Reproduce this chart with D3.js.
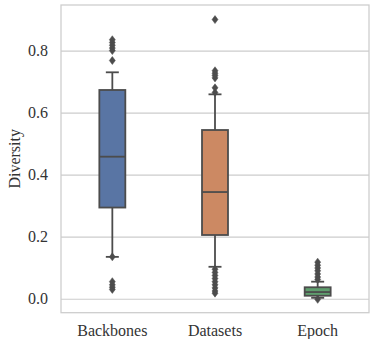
<!DOCTYPE html>
<html>
<head>
<meta charset="utf-8">
<script src="https://cdn.jsdelivr.net/npm/d3@7"></script>
<style>
  body { margin: 0; background: #fff; }
  text { font-family: "Liberation Serif", "DejaVu Serif", serif; }
</style>
</head>
<body>
<div id="chart"></div>
<script>
// Box plot data (summary stats per group)
const categories = ["Backbones", "Datasets", "Epoch"];
const colors = ["#5975a4", "#cc8963", "#5f9e6e"];
const q1 = [0.294, 0.2055, 0.0097];
const medians = [0.458, 0.344, 0.0216];
const q3 = [0.673, 0.544, 0.037];
const whiskerLow = [0.135, 0.103, 0.003];
const whiskerHigh = [0.730, 0.659, 0.055];
const outliersBackbones = [0.03, 0.037, 0.045, 0.055, 0.135, 0.768, 0.80, 0.808, 0.817, 0.826, 0.835];
const outliersDatasets = [0.018, 0.025, 0.035, 0.045, 0.055, 0.065, 0.075, 0.085, 0.095, 0.665, 0.68, 0.712, 0.72, 0.727, 0.735, 0.90];
const outliersEpoch = [-0.002, 0.062, 0.07, 0.08, 0.09, 0.099, 0.108, 0.118];
const yTicks = [0.0, 0.2, 0.4, 0.6, 0.8];

const outliers = [outliersBackbones, outliersDatasets, outliersEpoch];
const data = categories.map((c, i) => ({
    key: c, color: colors[i], q1: q1[i], med: medians[i], q3: q3[i],
    lo: whiskerLow[i], hi: whiskerHigh[i], fliers: outliers[i]
}));

// Chart dimensions and margins
const width = 370;
const height = 339;
const margins = { top: 5, right: 1, bottom: 26.3, left: 61 };
const lineColor = "#4c4c4c";
const gridColor = "#cccccc";
const textColor = "#333333";

const x = d3.scaleBand()
    .domain(categories)
    .range([margins.left, width - margins.right])
    .padding(0);
const y = d3.scaleLinear()
    .domain([-0.045, 0.947])
    .range([height - margins.bottom, margins.top]);

const boxW = x.bandwidth() * 0.253;
const capW = boxW * 0.5;

const svg = d3.select("#chart").append("svg")
    .attr("width", width)
    .attr("height", height)
    .attr("viewBox", [0, 0, width, height]);

// Y grid + tick labels
svg.append("g")
    .attr("transform", `translate(${margins.left},0)`)
    .call(d3.axisLeft(y).tickValues(yTicks).tickFormat(d3.format(".1f"))
        .tickSize(-(width - margins.left - margins.right)).tickPadding(13))
    .call(g => g.select(".domain").remove())
    .call(g => g.selectAll(".tick line").attr("stroke", gridColor).attr("stroke-width", 1.2))
    .call(g => g.selectAll(".tick text")
        .attr("fill", textColor)
        .style("font-size", "16px")
        .style("font-family", "'Liberation Serif', serif"));

// X labels
svg.append("g")
    .attr("transform", `translate(0,${height - margins.bottom})`)
    .call(d3.axisBottom(x).tickSize(0).tickPadding(0))
    .call(g => g.select(".domain").remove())
    .call(g => g.selectAll(".tick text")
        .attr("y", 0)
        .attr("dy", "23.3px")
        .attr("fill", textColor)
        .style("font-size", "16px")
        .style("font-family", "'Liberation Serif', serif"));

// Y axis title
svg.append("text")
    .attr("transform", `translate(19.5,${(margins.top + height - margins.bottom) / 2}) rotate(-90)`)
    .attr("text-anchor", "middle")
    .attr("fill", textColor)
    .style("font-size", "16px")
    .text("Diversity");

// Boxes
const groups = svg.append("g")
    .selectAll("g")
    .data(data)
    .join("g")
    .attr("transform", d => `translate(${x(d.key) + x.bandwidth() / 2},0)`);

groups.append("rect")
    .attr("x", -boxW / 2)
    .attr("y", d => y(d.q3))
    .attr("width", boxW)
    .attr("height", d => y(d.q1) - y(d.q3))
    .attr("fill", d => d.color)
    .attr("stroke", lineColor)
    .attr("stroke-width", 1.8);

// whiskers
groups.append("line")
    .attr("x1", 0).attr("x2", 0)
    .attr("y1", d => y(d.q3)).attr("y2", d => y(d.hi))
    .attr("stroke", lineColor).attr("stroke-width", 1.8);
groups.append("line")
    .attr("x1", 0).attr("x2", 0)
    .attr("y1", d => y(d.q1)).attr("y2", d => y(d.lo))
    .attr("stroke", lineColor).attr("stroke-width", 1.8);

// caps
groups.selectAll(".cap")
    .data(d => [d.lo, d.hi])
    .join("line")
    .attr("class", "cap")
    .attr("x1", -capW / 2).attr("x2", capW / 2)
    .attr("y1", v => y(v)).attr("y2", v => y(v))
    .attr("stroke", lineColor).attr("stroke-width", 1.8);

// median
groups.append("line")
    .attr("x1", -boxW / 2).attr("x2", boxW / 2)
    .attr("y1", d => y(d.med)).attr("y2", d => y(d.med))
    .attr("stroke", lineColor).attr("stroke-width", 1.8);

// outliers as thin diamonds
groups.selectAll(".flier")
    .data(d => d.fliers)
    .join("path")
    .attr("class", "flier")
    .attr("d", v => {
        const cy = y(v);
        return `M0,${cy - 4}L3,${cy}L0,${cy + 4}L-3,${cy}Z`;
    })
    .attr("fill", lineColor)
    .attr("stroke", lineColor)
    .attr("stroke-width", 0.5);

// Frame (spines)
svg.append("rect")
    .attr("x", margins.left)
    .attr("y", margins.top)
    .attr("width", width - margins.left - margins.right)
    .attr("height", height - margins.top - margins.bottom)
    .attr("fill", "none")
    .attr("stroke", gridColor)
    .attr("stroke-width", 1.25);
</script>
</body>
</html>
